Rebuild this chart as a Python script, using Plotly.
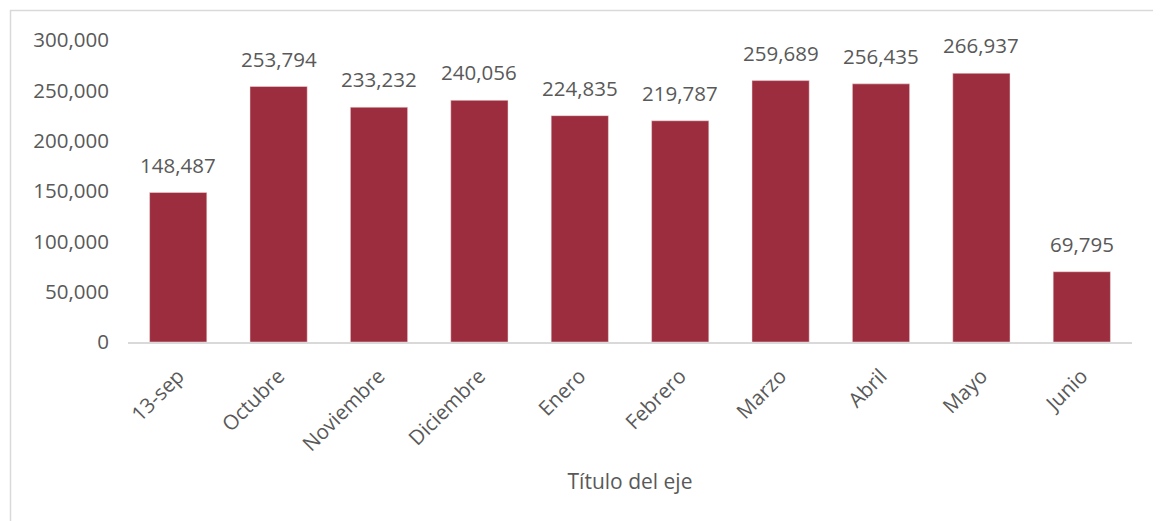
import plotly.graph_objects as go

categories = ["13-sep", "Octubre", "Noviembre", "Diciembre", "Enero", "Febrero",
              "Marzo", "Abril", "Mayo", "Junio"]
values = [148487, 253794, 233232, 240056, 224835, 219787, 259689, 256435, 266937, 69795]
y_tickvals = [0, 50000, 100000, 150000, 200000, 250000, 300000]
x_title = "Título del eje"

FONT = "Open Sans"
GRAY = "#595959"
BAR = "#9C2D3F"
FS = 20.5

fig = go.Figure()
fig.add_trace(go.Bar(
    x=categories, y=values,
    marker=dict(color=BAR, line=dict(color="#f2dede", width=0.5)),
    hoverinfo="x+y",
))

for c, v in zip(categories, values):
    fig.add_annotation(x=c, y=v, text=f"{v:,}", showarrow=False,
                       yanchor="bottom", yshift=12,
                       font=dict(family=FONT, size=FS, color=GRAY))

fig.update_layout(
    width=1161, height=521,
    margin=dict(l=120, r=37, t=32, b=187),
    paper_bgcolor="white", plot_bgcolor="white",
    bargap=0.43,
    showlegend=False,
    font=dict(family=FONT, size=FS, color=GRAY),
)
fig.update_xaxes(
    showline=True, linecolor="#d9d9d9", linewidth=2,
    tickangle=-45, ticks="", showgrid=False,
    tickfont=dict(family=FONT, size=FS, color=GRAY),
    ticklabelstandoff=12,
    title=dict(text=x_title, font=dict(family=FONT, size=21, color=GRAY), standoff=18),
    automargin=False,
)
fig.update_yaxes(
    range=[0, 300000], tickvals=y_tickvals, tickformat=",",
    showgrid=False, zeroline=False, showline=False, ticks="",
    tickfont=dict(family=FONT, size=FS, color=GRAY),
    ticklabelstandoff=18,
    automargin=False,
)

# outer chart border (reference pixel coords mapped to paper coords)
W, H = 1004.0, 302.0
def px(x):
    return (x - 128) / W
def py(y):
    return (342 - y) / H
fig.add_shape(type="rect", xref="paper", yref="paper",
              x0=px(10.5), x1=px(1158.5), y0=py(540), y1=py(10.5),
              line=dict(color="#d9d9d9", width=1.5), fillcolor="rgba(0,0,0,0)",
              layer="below")

fig.write_html("out.html")
